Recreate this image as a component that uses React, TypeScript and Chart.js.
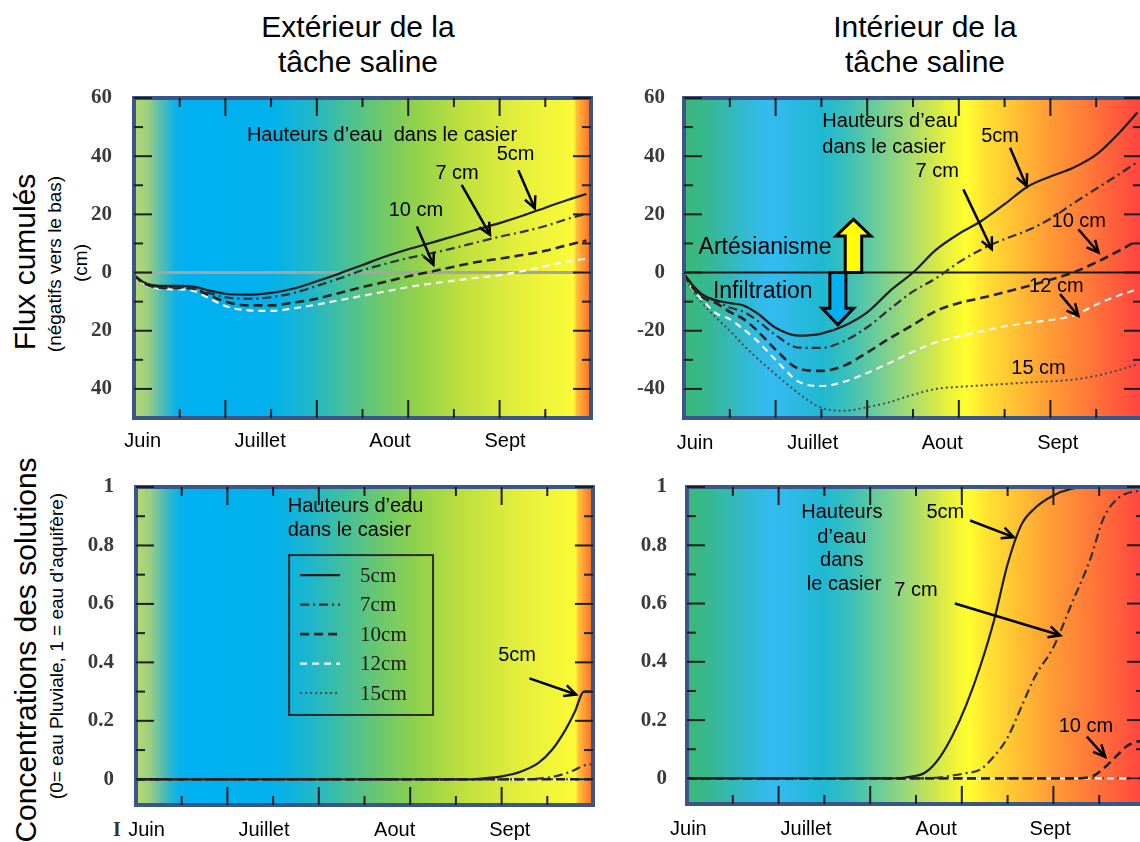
import React, { useEffect, useRef, useState } from 'react';
import { Chart, registerables } from 'chart.js';
Chart.register(...registerables);

// ---------------- DATA ----------------
const SERIES_NAMES = ['5cm', '7cm', '10cm', '12cm', '15cm'];
const MONTHS = ['Juin', 'Juillet', 'Aout', 'Sept'];

// x axis: days (0..100) since start of June
const X_FLUX = [0, 2, 4, 7, 10, 13, 16, 20, 25, 30, 35, 40, 45, 50, 55, 60, 65, 70, 75, 80, 85, 90, 95, 99];

// Extérieur – flux cumulés (cm)
const EXT_FLUX_5 = [-1, -3.2, -4.3, -4.6, -4.6, -4.8, -6, -7.3, -7.6, -7, -5.5, -3, -0.3, 2.6, 5.5, 8, 10.2, 12.5, 14.8, 17, 19.5, 22.3, 25, 27];
const EXT_FLUX_7 = [-1, -3.4, -4.6, -5, -5, -5.3, -6.8, -8.5, -9, -8.5, -7, -4.6, -2, 0.8, 3, 5, 6.6, 8.4, 10.4, 12.3, 14, 16, 18.5, 20.2];
const EXT_FLUX_10 = [-1, -3.6, -4.8, -5.3, -5.3, -5.6, -7.5, -10, -11.3, -11.3, -10.3, -9, -7, -5, -3.2, -1.3, 0.3, 2, 3.6, 4.8, 6, 7.5, 9.5, 11];
const EXT_FLUX_12 = [-1.2, -3.8, -5.1, -5.7, -5.8, -6.3, -8.5, -11.5, -13, -13.2, -12.3, -11, -9.5, -8, -6.5, -5, -3.8, -2.8, -1.8, -0.9, 0.5, 2.2, 3.8, 4.8];

// Intérieur – flux cumulés (cm)
const INT_FLUX_5 = [-0.5, -4.5, -7.5, -9.5, -10.5, -11.3, -14, -19, -21.7, -21, -18.3, -13.7, -6.3, 0, 7.8, 13.3, 17.8, 23.5, 29.5, 33, 36, 40.5, 48, 55];
const INT_FLUX_7 = [-0.6, -5, -8, -9.8, -12, -13.5, -16.5, -21.5, -25.8, -25.9, -23.5, -18.8, -12.5, -6.5, -2, 3.5, 8, 11.5, 14.5, 18.5, 23.8, 28.8, 33.8, 38];
const INT_FLUX_10 = [-0.7, -5.5, -8.5, -10.5, -13.5, -16, -20, -26.5, -33, -33.8, -32, -27.5, -22.5, -18, -13.2, -10.5, -8.7, -6.8, -4.7, -2.5, 0, 3.5, 7.5, 11];
const INT_FLUX_12 = [-0.8, -6, -9.5, -14, -16, -19.5, -23.5, -30, -37.5, -39, -37.5, -34.5, -31, -27.2, -24, -22, -20.2, -18.5, -17.3, -16.3, -14.8, -11, -7.8, -5.8];
const INT_FLUX_15 = [-1, -6.5, -10.5, -15.5, -20, -25, -29.5, -35, -41.5, -46.5, -47.5, -46.3, -44.5, -42, -40, -39.3, -38.8, -38.3, -37.8, -37.4, -36.8, -35.5, -33.5, -31.5];

const X_CONC = [0, 10, 20, 30, 40, 46, 49, 52, 55, 58, 61, 64, 67, 70, 73, 76, 80, 84, 88, 91, 94, 96, 98, 100];

// Extérieur – concentrations
const EXT_CONC_5 = [0, 0, 0, 0, 0, 0, 0, 0, 0, 0, 0, 0, 0, 0, 0, 0.003, 0.01, 0.025, 0.055, 0.1, 0.17, 0.23, 0.3, 0.3];
const EXT_CONC_7 = [0, 0, 0, 0, 0, 0, 0, 0, 0, 0, 0, 0, 0, 0, 0, 0, 0, 0, 0.002, 0.008, 0.02, 0.032, 0.047, 0.052];
const EXT_CONC_10 = [0, 0, 0, 0, 0, 0, 0, 0, 0, 0, 0, 0, 0, 0, 0, 0, 0, 0, 0, 0, 0, 0, 0, 0];
const EXT_CONC_12 = [0, 0, 0, 0, 0, 0, 0, 0, 0, 0, 0, 0, 0, 0, 0, 0, 0, 0, 0, 0, 0, 0, 0, 0];
const EXT_CONC_15 = [0, 0, 0, 0, 0, 0, 0, 0, 0, 0, 0, 0, 0, 0, 0, 0, 0, 0, 0, 0, 0, 0, 0, 0];

// Intérieur – concentrations
const INT_CONC_5 = [0, 0, 0, 0, 0, 0, 0.006, 0.02, 0.068, 0.148, 0.253, 0.383, 0.54, 0.735, 0.87, 0.928, 0.971, 0.994, 1, 1, 1, 1, 1, 1];
const INT_CONC_7 = [0, 0, 0, 0, 0, 0, 0, 0, 0.003, 0.01, 0.018, 0.03, 0.075, 0.14, 0.245, 0.35, 0.45, 0.6, 0.75, 0.895, 0.96, 0.978, 0.985, 0.99];
const INT_CONC_10 = [0, 0, 0, 0, 0, 0, 0, 0, 0, 0, 0, 0, 0, 0, 0, 0, 0, 0, 0.004, 0.035, 0.08, 0.11, 0.125, 0.13];
const INT_CONC_12 = [0, 0, 0, 0, 0, 0, 0, 0, 0, 0, 0, 0, 0, 0, 0, 0, 0, 0, 0, 0, 0, 0, 0, 0];
const INT_CONC_15 = [0, 0, 0, 0, 0, 0, 0, 0, 0, 0, 0, 0, 0, 0, 0, 0, 0, 0, 0, 0, 0, 0, 0, 0];

// tick values & labels
const FLUX_TICKS = [-40, -20, 0, 20, 40, 60];
const FLUX_LABELS_EXT = ['40', '20', '0', '20', '40', '60'];
const FLUX_LABELS_INT = ['-40', '-20', '0', '20', '40', '60'];
const FLUX_MINOR = [-30, -10, 10, 30, 50];
const CONC_TICKS = [0, 0.2, 0.4, 0.6, 0.8, 1];
const CONC_LABELS = ['0', '0.2', '0.4', '0.6', '0.8', '1'];
const CONC_MINOR = [0.1, 0.3, 0.5, 0.7, 0.9];
const X_MAJOR = [20, 40, 60, 80];
const X_MINOR = [10, 30, 50, 70, 90];

const MONTH_POS_TL = [1.9, 27.6, 56, 81.2];
const MONTH_POS_TR = [2.4, 28.1, 56.4, 81.6];
const MONTH_POS_BL = [2.3, 28, 56.6, 81.8];
const MONTH_POS_BR = [0.3, 26, 54.4, 79.3];

// ---------------- STYLE ----------------
const SANS = '"Liberation Sans", Arial, sans-serif';
const SERIF = '"Liberation Serif", "Times New Roman", serif';
const SERIES_STYLES = [
  { color: '#1c1c1c', width: 2.2, dash: [] as number[] },
  { color: '#303030', width: 2.2, dash: [9, 4, 2, 4] },
  { color: '#222222', width: 2.6, dash: [9, 5] },
  { color: '#f6f6f6', width: 2.2, dash: [7, 5] },
  { color: '#4a4a4a', width: 2, dash: [2, 3] },
];
const LEFT_BG: [number, string][] = [
  [0, '#b9d96c'], [0.03, '#9ccf82'], [0.06, '#52bcb4'], [0.09, '#0cb2e8'], [0.12, '#00b0f0'],
  [0.3, '#02b1ec'], [0.38, '#1db6cc'], [0.46, '#45c09a'], [0.54, '#6ec86a'], [0.62, '#93d24a'],
  [0.72, '#c0e03e'], [0.84, '#e4ee3c'], [0.962, '#fbfb36'], [0.968, '#ffc23c'], [0.982, '#ff9a30'], [0.993, '#ff7a2e'], [1, '#ee6a2e'],
];
const RIGHT_BG: [number, string][] = [
  [0, '#3bb876'], [0.06, '#36b896'], [0.12, '#32b9c8'], [0.18, '#33bbee'], [0.22, '#30baea'],
  [0.3, '#1fb8d2'], [0.36, '#3cc0b8'], [0.42, '#6ccc98'], [0.48, '#9cd878'], [0.54, '#cce650'],
  [0.59, '#f2f634'], [0.615, '#ffff30'], [0.66, '#ffe032'], [0.74, '#ffb834'], [0.8, '#ff9a35'],
  [0.88, '#ff7a38'], [0.95, '#ff5a3c'], [1, '#ff4242'],
];

const Y_AXIS_W = 70;
const X_AXIS_H = 44;
const PAD_T = 14;
const PAD_R = 12;

// ---------------- ANNOTATIONS (data coordinates) ----------------
type Txt = { text: string; x: number; y: number; align?: CanvasTextAlign; size?: number };
type Arr = [number, number, number, number];
type Block = { x: number; base: number; neck: number; tip: number; body: number; head: number; fill: string };

const TL_TEXTS: Txt[] = [
  { text: 'Hauteurs d’eau  dans le casier', x: 24.7, y: 47.2, align: 'left' },
  { text: '5cm', x: 83.5, y: 40.7 },
  { text: '7 cm', x: 70.7, y: 34.2 },
  { text: '10 cm', x: 61.7, y: 21.5 },
];
const TL_ARROWS: Arr[] = [[84.1, 35.2, 87.7, 22.1], [71.7, 30.1, 77.9, 13], [61.9, 15.8, 65.5, 2.7]];

const TR_TEXTS: Txt[] = [
  { text: 'Hauteurs d’eau', x: 30.2, y: 51.9, align: 'left' },
  { text: 'dans le casier', x: 30.2, y: 43.1, align: 'left' },
  { text: '5cm', x: 69, y: 46.9 },
  { text: '7 cm', x: 55.3, y: 34.9 },
  { text: '10 cm', x: 86.2, y: 17.7 },
  { text: '12 cm', x: 81.3, y: -4.8 },
  { text: '15 cm', x: 77.4, y: -32.9 },
  { text: 'Artésianisme', x: 17.7, y: 8.6, size: 23 },
  { text: 'Infiltration', x: 17.2, y: -6.6, size: 23 },
];
const TR_ARROWS: Arr[] = [[71.2, 42.9, 74.8, 29.7], [61, 28.6, 67.2, 8], [86.1, 14.9, 90.5, 6.9], [82.1, -7.4, 86.1, -14.9]];
const TR_BLOCKS: Block[] = [
  { x: 37, base: 0, neck: 12.6, tip: 18.3, body: 1.8, head: 3.8, fill: '#ffff00' },
  { x: 33.6, base: 0, neck: -12.3, tip: -18, body: 1.75, head: 3.45, fill: '#00b0f0' },
];

const BL_TEXTS: Txt[] = [
  { text: 'Hauteurs d’eau', x: 33.2, y: 0.933, align: 'left' },
  { text: 'dans le casier', x: 33.2, y: 0.85, align: 'left' },
  { text: '5cm', x: 83.4, y: 0.425 },
];
const BL_ARROWS: Arr[] = [[86.1, 0.345, 96.3, 0.29]];
const BL_LEGEND = { x0: 33.5, y0: 0.767, x1: 65, y1: 0.22 };

const BR_TEXTS: Txt[] = [
  { text: 'Hauteurs', x: 33.8, y: 0.913 },
  { text: 'd’eau', x: 33.8, y: 0.828 },
  { text: 'dans', x: 33.8, y: 0.748 },
  { text: 'le casier', x: 34.3, y: 0.666 },
  { text: '5cm', x: 56.4, y: 0.913 },
  { text: '7 cm', x: 50, y: 0.646 },
  { text: '10 cm', x: 87.1, y: 0.177 },
];
const BR_ARROWS: Arr[] = [[61.8, 0.885, 71.3, 0.828], [58.5, 0.6, 81.5, 0.491], [87.3, 0.143, 91.3, 0.074]];

// ---------------- PANEL ----------------
interface PanelProps {
  box: { l: number; t: number; r: number; b: number };
  xs: number[];
  series: number[][];
  yMin: number; yMax: number;
  yTicks: number[]; yLabels: string[]; yMinor: number[];
  monthPos: number[];
  bg: [number, string][];
  labelPad: number; monthPad: number;
  texts: Txt[]; arrows: Arr[]; blocks?: Block[];
  zeroLine?: { color: string; width: number };
  legend?: { x0: number; y0: number; x1: number; y1: number };
}

function drawArrow(ctx: CanvasRenderingContext2D, x1: number, y1: number, x2: number, y2: number) {
  ctx.beginPath();
  ctx.moveTo(x1, y1);
  ctx.lineTo(x2, y2);
  ctx.stroke();
  const ang = Math.atan2(y2 - y1, x2 - x1);
  const L = 13, s = 0.45;
  ctx.beginPath();
  ctx.moveTo(x2 - L * Math.cos(ang - s), y2 - L * Math.sin(ang - s));
  ctx.lineTo(x2, y2);
  ctx.lineTo(x2 - L * Math.cos(ang + s), y2 - L * Math.sin(ang + s));
  ctx.stroke();
}

function Panel(p: PanelProps) {
  const ref = useRef<HTMLCanvasElement>(null);
  const [err, setErr] = useState('');
  const W = p.box.r - p.box.l + Y_AXIS_W + PAD_R;
  const H = p.box.b - p.box.t + PAD_T + X_AXIS_H;
  useEffect(() => {
    const errors: string[] = [];
    const datasets = p.series.map((vals, i) => ({
      label: SERIES_NAMES[i],
      data: p.xs.map((x, j) => ({ x, y: vals[j] })),
      borderColor: SERIES_STYLES[i].color,
      borderWidth: SERIES_STYLES[i].width,
      borderDash: SERIES_STYLES[i].dash,
      pointRadius: 0,
      cubicInterpolationMode: 'monotone',
      fill: false,
    }));
    let chart: any = null;
    try {
      chart = new Chart(ref.current as HTMLCanvasElement, {
        type: 'line',
        data: { datasets },
        options: {
          animation: false,
          responsive: false,
          maintainAspectRatio: false,
          events: [],
          layout: { padding: { top: PAD_T, right: PAD_R, left: 0, bottom: 0 } },
          plugins: { legend: { display: false }, tooltip: { enabled: false } },
          scales: {
            x: {
              type: 'linear', min: 0, max: 100, bounds: 'data',
              grid: { display: false }, border: { display: false },
              afterBuildTicks: (s: any) => { s.ticks = p.monthPos.map((v) => ({ value: v })); },
              afterFit: (s: any) => { s.height = X_AXIS_H; s.paddingLeft = 0; s.paddingRight = 0; },
              ticks: {
                autoSkip: false, maxRotation: 0, minRotation: 0, padding: p.monthPad,
                color: '#000', font: { family: SANS, size: 20 },
                callback: (_v: any, i: number) => MONTHS[i],
              },
            },
            y: {
              type: 'linear', min: p.yMin, max: p.yMax, bounds: 'data',
              grid: { display: false }, border: { display: false },
              afterBuildTicks: (s: any) => { s.ticks = p.yTicks.map((v) => ({ value: v })); },
              afterFit: (s: any) => { s.width = Y_AXIS_W; s.paddingTop = 0; s.paddingBottom = 0; },
              ticks: {
                autoSkip: false, padding: p.labelPad, color: '#3a3a3a',
                font: { family: SERIF, size: 21, weight: 'bold' },
                callback: (_v: any, i: number) => p.yLabels[i],
              },
            },
          },
        } as any,
        plugins: [{
          id: 'deco',
          beforeDatasetsDraw(c: any) {
            const { ctx, chartArea: a, scales } = c;
            try {
              ctx.save();
              const g = ctx.createLinearGradient(a.left, 0, a.right, 0);
              p.bg.forEach(([o, col]) => g.addColorStop(o, col));
              ctx.fillStyle = g;
              ctx.fillRect(a.left, a.top, a.right - a.left, a.bottom - a.top);
              if (p.zeroLine) {
                const zy = scales.y.getPixelForValue(0);
                ctx.strokeStyle = p.zeroLine.color;
                ctx.lineWidth = p.zeroLine.width;
                ctx.beginPath();
                ctx.moveTo(a.left, zy);
                ctx.lineTo(a.right, zy);
                ctx.stroke();
              }
              ctx.restore();
            } catch (e: any) { errors.push('bg ' + e.message); }
          },
          afterDatasetsDraw(c: any) {
            const { ctx, scales } = c;
            try {
              const sx = scales.x, sy = scales.y;
              const px = (v: number) => sx.getPixelForValue(v);
              const py = (v: number) => sy.getPixelForValue(v);
              ctx.save();
              ctx.setLineDash([]);
              (p.blocks || []).forEach((b) => {
                ctx.beginPath();
                ctx.moveTo(px(b.x - b.body), py(b.base));
                ctx.lineTo(px(b.x - b.body), py(b.neck));
                ctx.lineTo(px(b.x - b.head), py(b.neck));
                ctx.lineTo(px(b.x), py(b.tip));
                ctx.lineTo(px(b.x + b.head), py(b.neck));
                ctx.lineTo(px(b.x + b.body), py(b.neck));
                ctx.lineTo(px(b.x + b.body), py(b.base));
                ctx.closePath();
                ctx.fillStyle = b.fill;
                ctx.fill();
                ctx.strokeStyle = '#000';
                ctx.lineWidth = 3;
                ctx.stroke();
              });
              if (p.legend) {
                const L = p.legend;
                const lx = px(L.x0), ly = py(L.y0), rx = px(L.x1), by = py(L.y1);
                ctx.strokeStyle = '#2a2a2a';
                ctx.lineWidth = 2;
                ctx.strokeRect(lx, ly, rx - lx, by - ly);
                c.data.datasets.forEach((ds: any, i: number) => {
                  const yy = ly + 20 + i * 29.5;
                  ctx.strokeStyle = ds.borderColor;
                  ctx.lineWidth = ds.borderWidth;
                  ctx.setLineDash(ds.borderDash || []);
                  ctx.beginPath();
                  ctx.moveTo(lx + 11, yy);
                  ctx.lineTo(lx + 51, yy);
                  ctx.stroke();
                  ctx.setLineDash([]);
                  ctx.fillStyle = '#1a1a1a';
                  ctx.font = `21px ${SERIF}`;
                  ctx.textAlign = 'left';
                  ctx.textBaseline = 'middle';
                  ctx.fillText(ds.label, lx + 71, yy + 1);
                });
              }
              ctx.setLineDash([]);
              p.texts.forEach((t) => {
                ctx.font = `${t.size || 20}px ${SANS}`;
                ctx.fillStyle = '#000';
                ctx.textAlign = t.align || 'center';
                ctx.textBaseline = 'middle';
                ctx.fillText(t.text, px(t.x), py(t.y));
              });
              ctx.strokeStyle = '#000';
              ctx.lineWidth = 2.5;
              p.arrows.forEach((r) => drawArrow(ctx, px(r[0]), py(r[1]), px(r[2]), py(r[3])));
              ctx.restore();
            } catch (e: any) { errors.push('ann ' + e.message); }
          },
          afterDraw(c: any) {
            const { ctx, chartArea: a, scales } = c;
            try {
              const sx = scales.x, sy = scales.y;
              ctx.save();
              ctx.setLineDash([]);
              ctx.lineWidth = 4;
              ctx.strokeStyle = '#3a5688';
              ctx.strokeRect(a.left, a.top, a.right - a.left, a.bottom - a.top);
              ctx.fillStyle = '#1e1e1e';
              const vTick = (xp: number, len: number) => {
                ctx.fillRect(xp - 1, a.top, 2, len);
                ctx.fillRect(xp - 1, a.bottom - len, 2, len);
              };
              const hTick = (yp: number, len: number) => {
                ctx.fillRect(a.left, yp - 1, len, 2);
                ctx.fillRect(a.right - len, yp - 1, len, 2);
              };
              X_MAJOR.forEach((v) => vTick(sx.getPixelForValue(v), 18));
              X_MINOR.forEach((v) => vTick(sx.getPixelForValue(v), 9));
              p.yTicks.forEach((v) => hTick(sy.getPixelForValue(v), 18));
              p.yMinor.forEach((v) => hTick(sy.getPixelForValue(v), 9));
              ctx.restore();
            } catch (e: any) { errors.push('frame ' + e.message); }
          },
        }],
      });
    } catch (e: any) {
      errors.push('chart ' + e.message);
    }
    if (errors.length) setErr(errors.join(' | '));
    return () => { if (chart) chart.destroy(); };
  }, []);
  return (
    <>
      <canvas
        ref={ref}
        width={W}
        height={H}
        style={{ position: 'absolute', left: p.box.l - Y_AXIS_W, top: p.box.t - PAD_T, width: W, height: H }}
      />
      {err ? <div style={{ position: 'absolute', left: p.box.l, top: p.box.t + 40, color: 'red', fontSize: 12 }}>{err}</div> : null}
    </>
  );
}

const rot = (cx: number, cy: number, size: number): React.CSSProperties => ({
  position: 'absolute', left: cx, top: cy, transform: 'translate(-50%, -50%) rotate(-90deg)',
  whiteSpace: 'nowrap', fontSize: size, fontFamily: SANS, color: '#000', lineHeight: 1,
});

export default function App() {
  useEffect(() => { document.body.style.margin = '0'; }, []);
  return (
    <div style={{ position: 'fixed', left: 0, top: 0, width: 1140, height: 842, overflow: 'hidden', background: '#fff', fontFamily: SANS }}>
      <div style={{ position: 'absolute', left: 208, top: 9, width: 300, textAlign: 'center', fontSize: 30, lineHeight: '35px' }}>
        Extérieur de la<br />tâche saline
      </div>
      <div style={{ position: 'absolute', left: 775, top: 9, width: 300, textAlign: 'center', fontSize: 30, lineHeight: '35px' }}>
        Intérieur de la<br />tâche saline
      </div>
      <div style={rot(25, 262, 30)}>Flux cumulés</div>
      <div style={rot(54, 264, 19)}>(négatifs vers le bas)</div>
      <div style={rot(80, 263, 19)}>(cm)</div>
      <div style={rot(26, 650, 30)}>Concentrations des solutions</div>
      <div style={rot(56, 646, 19)}>(0= eau Pluviale, 1 = eau d’aquifère)</div>
      <div style={{ position: 'absolute', left: 113, top: 818, fontFamily: SERIF, fontWeight: 'bold', fontSize: 20, color: '#333' }}>I</div>

      <Panel
        box={{ l: 134, t: 98, r: 591, b: 418 }}
        xs={X_FLUX}
        series={[EXT_FLUX_5, EXT_FLUX_7, EXT_FLUX_10, EXT_FLUX_12]}
        yMin={-50} yMax={60}
        yTicks={FLUX_TICKS} yLabels={FLUX_LABELS_EXT} yMinor={FLUX_MINOR}
        monthPos={MONTH_POS_TL} bg={LEFT_BG}
        labelPad={14} monthPad={3}
        texts={TL_TEXTS} arrows={TL_ARROWS}
        zeroLine={{ color: '#a4a4a4', width: 3 }}
      />
      <Panel
        box={{ l: 684, t: 98, r: 1142, b: 418 }}
        xs={X_FLUX}
        series={[INT_FLUX_5, INT_FLUX_7, INT_FLUX_10, INT_FLUX_12, INT_FLUX_15]}
        yMin={-50} yMax={60}
        yTicks={FLUX_TICKS} yLabels={FLUX_LABELS_INT} yMinor={FLUX_MINOR}
        monthPos={MONTH_POS_TR} bg={RIGHT_BG}
        labelPad={11} monthPad={5}
        texts={TR_TEXTS} arrows={TR_ARROWS} blocks={TR_BLOCKS}
        zeroLine={{ color: '#1a1a1a', width: 2 }}
      />
      <Panel
        box={{ l: 136, t: 487, r: 593, b: 805 }}
        xs={X_CONC}
        series={[EXT_CONC_5, EXT_CONC_7, EXT_CONC_10, EXT_CONC_12, EXT_CONC_15]}
        yMin={-0.088} yMax={1}
        yTicks={CONC_TICKS} yLabels={CONC_LABELS} yMinor={CONC_MINOR}
        monthPos={MONTH_POS_BL} bg={LEFT_BG}
        labelPad={14} monthPad={5}
        texts={BL_TEXTS} arrows={BL_ARROWS} legend={BL_LEGEND}
      />
      <Panel
        box={{ l: 687, t: 487, r: 1145, b: 804 }}
        xs={X_CONC}
        series={[INT_CONC_5, INT_CONC_7, INT_CONC_10, INT_CONC_12, INT_CONC_15]}
        yMin={-0.088} yMax={1}
        yTicks={CONC_TICKS} yLabels={CONC_LABELS} yMinor={CONC_MINOR}
        monthPos={MONTH_POS_BR} bg={RIGHT_BG}
        labelPad={12} monthPad={5}
        texts={BR_TEXTS} arrows={BR_ARROWS}
      />
    </div>
  );
}
